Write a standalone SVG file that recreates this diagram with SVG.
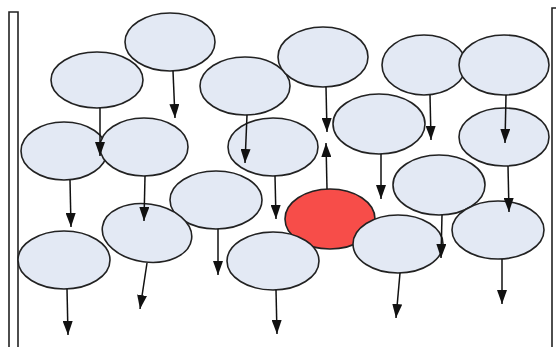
<svg xmlns="http://www.w3.org/2000/svg" width="556" height="347" viewBox="0 0 556 347">
<style>
.n{fill:#e3e9f4;stroke:#222;stroke-width:1.6}
.r{fill:#f74d49;stroke:#222;stroke-width:1.6}
.a{stroke:#111;stroke-width:1.5;fill:none;marker-end:url(#ah)}
.b{fill:none;stroke:#222;stroke-width:1.6}
</style>
<defs>
<marker id="ah" viewBox="0 0 14 10" refX="14" refY="5" markerWidth="14" markerHeight="10" markerUnits="userSpaceOnUse" orient="auto">
<path d="M0,0 L14,5 L0,10 Z" fill="#111"/>
</marker>
</defs>
<rect width="556" height="347" fill="#fff"/>
<path class="b" d="M9,347 V12 H18 V347"/>
<path class="b" d="M552,347 V8 H556"/>
<g id="n1"><ellipse class="n" cx="170" cy="42" rx="45" ry="29"/></g>
<g id="n2"><ellipse class="n" cx="97" cy="80" rx="46" ry="28"/></g>
<g id="n3"><ellipse class="n" cx="245" cy="86" rx="45" ry="29"/></g>
<g id="n4"><ellipse class="n" cx="323" cy="57" rx="45" ry="30"/></g>
<g id="n6"><ellipse class="n" cx="424" cy="65" rx="42" ry="30"/></g>
<g id="n7"><ellipse class="n" cx="504" cy="65" rx="45" ry="30"/></g>
<g id="n8"><ellipse class="n" cx="504" cy="137" rx="45" ry="29"/></g>
<g id="n9"><ellipse class="n" cx="379" cy="124" rx="46" ry="30"/></g>
<g id="n10"><ellipse class="n" cx="64" cy="151" rx="43" ry="29"/></g>
<g id="n11"><ellipse class="n" cx="144" cy="147" rx="44" ry="29"/></g>
<g id="n12"><ellipse class="n" cx="273" cy="147" rx="45" ry="29"/></g>
<g id="n13"><ellipse class="n" cx="216" cy="200" rx="46" ry="29"/></g>
<g id="n14"><ellipse class="n" cx="147" cy="233" rx="45" ry="29" transform="rotate(8 147 233)"/></g>
<g id="n15"><ellipse class="n" cx="64" cy="260" rx="46" ry="29"/></g>
<g id="n17"><ellipse class="r" cx="330" cy="219" rx="45" ry="30"/></g>
<g id="n16"><ellipse class="n" cx="273" cy="261" rx="46" ry="29"/></g>
<g id="n19"><ellipse class="n" cx="439" cy="185" rx="46" ry="30"/></g>
<g id="n18"><ellipse class="n" cx="398" cy="244" rx="45" ry="29"/></g>
<g id="n20"><ellipse class="n" cx="498" cy="230" rx="46" ry="29"/></g>
<g id="connectors">
<line class="a" x1="173" y1="71" x2="175" y2="118"/>
<line class="a" x1="100" y1="108" x2="100" y2="156"/>
<line class="a" x1="247" y1="115" x2="245" y2="163"/>
<line class="a" x1="326" y1="87" x2="327" y2="132"/>
<line class="a" x1="327" y1="189" x2="326" y2="143"/>
<line class="a" x1="430" y1="95" x2="431" y2="140"/>
<line class="a" x1="506" y1="95" x2="505" y2="143"/>
<line class="a" x1="508" y1="166" x2="509" y2="212"/>
<line class="a" x1="381" y1="154" x2="381" y2="199"/>
<line class="a" x1="70" y1="180" x2="71" y2="227"/>
<line class="a" x1="145" y1="176" x2="144" y2="221"/>
<line class="a" x1="275" y1="176" x2="276" y2="219"/>
<line class="a" x1="218" y1="229" x2="218" y2="275"/>
<line class="a" x1="147" y1="263" x2="140" y2="309"/>
<line class="a" x1="67" y1="289" x2="68" y2="335"/>
<line class="a" x1="276" y1="290" x2="277" y2="334"/>
<line class="a" x1="400" y1="273" x2="396" y2="318"/>
<line class="a" x1="442" y1="215" x2="441" y2="258"/>
<line class="a" x1="502" y1="259" x2="502" y2="304"/>
</g>
</svg>
